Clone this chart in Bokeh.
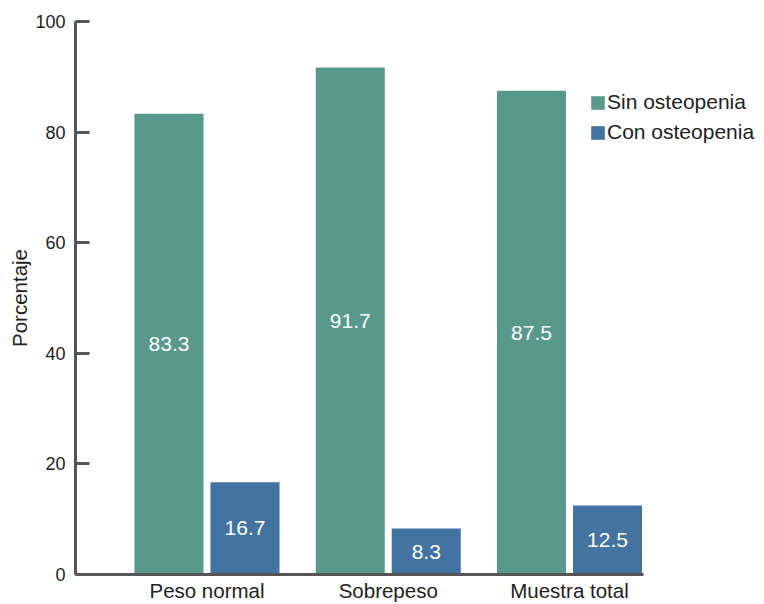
from bokeh.plotting import figure
from bokeh.models import ColumnDataSource, Range1d, FixedTicker, Legend, LegendItem
from bokeh.transform import dodge
from bokeh.core.properties import value
from bokeh.embed import file_html
from bokeh.resources import INLINE

categories = ["Peso normal", "Sobrepeso", "Muestra total"]
sin_osteopenia = [83.3, 91.7, 87.5]
con_osteopenia = [16.7, 8.3, 12.5]
y_ticks = [0, 20, 40, 60, 80, 100]

GREEN = "#59998B"
BLUE = "#4373A1"
AXIS = "#555555"
FONT = "Liberation Sans"

xs = [i + 1 for i in range(len(categories))]
src = ColumnDataSource(dict(
    x=xs,
    sin=sin_osteopenia,
    con=con_osteopenia,
    sin_mid=[v / 2 for v in sin_osteopenia],
    con_mid=[v / 2 for v in con_osteopenia],
    sin_lbl=[f"{v:.1f}" for v in sin_osteopenia],
    con_lbl=[f"{v:.1f}" for v in con_osteopenia],
))

x_start = 1 - 0.7255
x_axis_end = 3 + 0.408
x_end = x_start + 685 / 181.25

p = figure(width=764, height=604,
           output_backend="svg", toolbar_location=None,
           x_range=Range1d(x_start, x_end), y_range=Range1d(0, 100),
           min_border_left=75, min_border_top=21, min_border_right=4, min_border_bottom=30)
p.outline_line_color = None
p.grid.grid_line_color = None
p.background_fill_color = "white"

off = 0.2097
bw = 0.381
r1 = p.vbar(x=dodge("x", -off, range=p.x_range), top="sin", width=bw, source=src,
            fill_color=GREEN, line_color=None)
r2 = p.vbar(x=dodge("x", off, range=p.x_range), top="con", width=bw, source=src,
            fill_color=BLUE, line_color=None)

p.text(x=dodge("x", -off, range=p.x_range), y="sin_mid", text="sin_lbl", source=src,
       text_color="white", text_align="center", text_baseline="middle",
       text_font=value(FONT), text_font_size="21px")
p.text(x=dodge("x", off, range=p.x_range), y="con_mid", text="con_lbl", source=src,
       text_color="white", text_align="center", text_baseline="middle",
       text_font=value(FONT), text_font_size="21px")

# y axis
ya = p.yaxis[0]
ya.ticker = FixedTicker(ticks=y_ticks)
ya.axis_line_width = 3
ya.axis_line_color = AXIS
ya.major_tick_line_width = 3
ya.major_tick_line_color = AXIS
ya.major_tick_in = 14
ya.major_tick_out = 0
ya.minor_tick_line_color = None
ya.major_label_text_font = FONT
ya.major_label_text_font_size = "18px"
ya.major_label_text_color = "#222222"
ya.major_label_standoff = 10
ya.axis_label = "Porcentaje"
ya.axis_label_text_font = FONT
ya.axis_label_text_font_size = "20.5px"
ya.axis_label_text_font_style = "normal"
ya.axis_label_text_color = "#222222"
ya.axis_label_standoff = 1

# x axis
xa = p.xaxis[0]
xa.ticker = FixedTicker(ticks=xs)
xa.bounds = (x_start, x_axis_end)
xa.major_label_overrides = {x: c for x, c in zip(xs, categories)}
xa.axis_line_width = 3
xa.axis_line_color = AXIS
xa.major_tick_line_color = None
xa.minor_tick_line_color = None
xa.major_label_text_font = FONT
xa.major_label_text_font_size = "20.5px"
xa.major_label_text_color = "#222222"
xa.major_label_standoff = -2

legend = Legend(items=[LegendItem(label="Sin osteopenia", renderers=[r1]),
                       LegendItem(label="Con osteopenia", renderers=[r2])],
                location=(514, 430), orientation="vertical",
                glyph_width=17, glyph_height=17, label_standoff=1,
                label_text_font=FONT, label_text_font_size="21px", label_text_color="#222222",
                spacing=6, padding=0, margin=0, border_line_color=None,
                background_fill_alpha=0)
p.add_layout(legend, "center")

open("out.html", "w").write(file_html(p, INLINE))
